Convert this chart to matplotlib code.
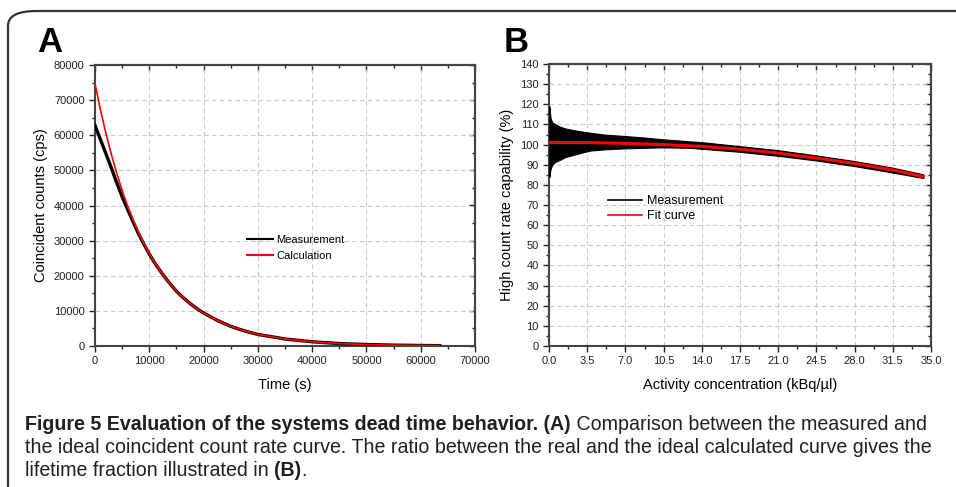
import matplotlib
matplotlib.use("Agg")
import matplotlib.pyplot as plt
from matplotlib.patches import FancyBboxPatch
from matplotlib.ticker import MultipleLocator, FormatStrFormatter

plt.rcParams["font.family"] = ["Liberation Sans", "DejaVu Sans"]

# panel A: coincident counts vs time
time_s = [0, 1000, 2000, 3000, 4000, 5000, 6000, 7000, 8000, 9000, 10000, 11000, 12000,
          13000, 14000, 15000, 16000, 17500, 19000, 20000, 22500, 25000, 27500, 30000,
          35000, 40000, 45000, 50000, 55000, 60000, 63500]
calc_cps = [74700, 67300, 60600, 54600, 49200, 44300, 39900, 36000, 32400, 29200, 26300,
            23700, 21400, 19300, 17400, 15600, 14100, 12100, 10400, 9400, 7300, 5600,
            4300, 3300, 2000, 1200, 700, 420, 250, 150, 105]
meas_cps = [62800, 58800, 54800, 50700, 46500, 42500, 38900, 35400, 32000, 29000, 26200,
            23650, 21400, 19300, 17400, 15600, 14100, 12100, 10400, 9400, 7300, 5600,
            4300, 3300, 2000, 1200, 700, 420, 250, 150, 105]

# panel B: high count rate capability vs activity
act = [0.03, 0.08, 0.15, 0.3, 0.6, 1.0, 1.5, 2.2, 3.0, 3.75, 5.0, 6.8, 8.5, 10.5,
       12.9, 14.0, 17.5, 21.0, 24.5, 28.0, 31.5, 34.3]
meas_hi = [119, 116, 113, 111, 110, 108.9, 108, 107.2, 106.5, 105.9, 105, 104.3, 103.6,
           102.6, 101.6, 101.2, 99.2, 97.2, 94.6, 91.8, 88.5, 85.2]
meas_lo = [84, 86, 88, 90, 91.5, 92.4, 93.8, 94.8, 96, 97, 97.6, 98.1, 98.4, 98.6,
           98.4, 97.9, 96.4, 94.4, 92.1, 89.3, 86.1, 83.4]
fit_x = [0, 3.5, 7.0, 10.5, 14.0, 17.5, 21.0, 23.0, 24.5, 28.0, 31.5, 34.3]
fit_y = [101, 101, 100.6, 100, 99.1, 97.7, 95.8, 94.3, 93.3, 90.6, 87.4, 84.1]

fig = plt.figure(figsize=(9.56, 4.87), dpi=100)

frame = FancyBboxPatch((8 / 956, -0.2), 1.2, 1.2 - 11 / 487,
                       boxstyle="round,pad=0,rounding_size=0.03",
                       transform=fig.transFigure, fill=False,
                       edgecolor="#333333", linewidth=1.6)
fig.patches.append(frame)

spine_col = "#444444"
tick_col = "#222222"


def style(ax, xmaj, xmin, ymaj, ymin, xlim, ylim):
    ax.set_xlim(*xlim)
    ax.set_ylim(*ylim)
    ax.xaxis.set_major_locator(MultipleLocator(xmaj))
    ax.xaxis.set_minor_locator(MultipleLocator(xmin))
    ax.yaxis.set_major_locator(MultipleLocator(ymaj))
    ax.yaxis.set_minor_locator(MultipleLocator(ymin))
    ax.tick_params(which="major", direction="out", length=4, width=1.0,
                   labelsize=8, colors=tick_col)
    ax.tick_params(which="minor", direction="out", length=2.5, width=1.0, colors=tick_col)
    ax.grid(True, which="major", linestyle=(0, (4, 3)), color="#c8c8c8", linewidth=0.8)
    for s in ax.spines.values():
        s.set_color(spine_col)
        s.set_linewidth(1.5)
    # mirrored ticks pointing inward on top / right
    top = ax.secondary_xaxis("top")
    top.xaxis.set_major_locator(MultipleLocator(xmaj))
    top.xaxis.set_minor_locator(MultipleLocator(xmin))
    top.tick_params(which="major", direction="in", length=4, labeltop=False, width=1.0, colors=tick_col)
    top.tick_params(which="minor", direction="in", length=2.5, width=1.0, colors=tick_col)
    top.spines["top"].set_color(spine_col)
    top.spines["top"].set_linewidth(1.5)
    right = ax.secondary_yaxis("right")
    right.yaxis.set_major_locator(MultipleLocator(ymaj))
    right.yaxis.set_minor_locator(MultipleLocator(ymin))
    right.tick_params(which="major", direction="in", length=4, labelright=False, width=1.0, colors=tick_col)
    right.tick_params(which="minor", direction="in", length=2.5, width=1.0, colors=tick_col)
    right.spines["right"].set_color(spine_col)
    right.spines["right"].set_linewidth(1.5)


# ---- panel A
axA = fig.add_axes([95 / 956, 1 - 346 / 487, 380 / 956, 281 / 487])
axA.plot(time_s, meas_cps, color="black", linewidth=2.4, label="Measurement", zorder=3)
axA.plot(time_s, calc_cps, color="red", linewidth=1.2, label="Calculation", zorder=4)
style(axA, 10000, 5000, 10000, 5000, (0, 70000), (0, 80000))
axA.set_xlabel("Time (s)", fontsize=10.5, labelpad=8)
axA.set_ylabel("Coincident counts (cps)", fontsize=10.5, labelpad=4)
legA = axA.legend(loc="upper left", bbox_to_anchor=(0.4, 0.395), frameon=False,
                  fontsize=8, handlelength=2.3, handletextpad=0.3, labelspacing=0.55,
                  borderpad=0, borderaxespad=0)
for h in legA.get_lines():
    h.set_linewidth(1.5)

# ---- panel B
axB = fig.add_axes([549 / 956, 1 - 346 / 487, 382 / 956, 282 / 487])
axB.fill_between(act, meas_lo, meas_hi, color="black", linewidth=0.8, zorder=3)
axB.plot([], [], color="black", linewidth=1.2, label="Measurement")
axB.plot(fit_x, fit_y, color="red", linewidth=2.2, label="Fit curve", zorder=4)
style(axB, 3.5, 1.75, 10, 5, (0, 35), (0, 140))
axB.xaxis.set_major_formatter(FormatStrFormatter("%.1f"))
axB.set_xlabel("Activity concentration (kBq/\u00b5l)", fontsize=10.5, labelpad=8)
axB.set_ylabel("High count rate capability (%)", fontsize=10.5, labelpad=4)
legB = axB.legend(loc="upper left", bbox_to_anchor=(0.155, 0.535), frameon=False,
                  fontsize=9, handlelength=2.7, handletextpad=0.4, labelspacing=0.25,
                  borderpad=0, borderaxespad=0)
for h in legB.get_lines():
    h.set_linewidth(1.2)

# panel letters
fig.text(37 / 956, 1 - 52 / 487, "A", fontsize=25, fontweight="bold", va="baseline")
fig.text(504 / 956, 1 - 52 / 487, "B", fontsize=25, fontweight="bold", va="baseline")

# caption with mixed weights, pieces chained left to right
cap_font = ["Liberation Sans Narrow", "Liberation Sans", "DejaVu Sans"]
cap_col = "#231f20"
cap_size = 14.15
lines = [
    [("Figure 5 Evaluation of the systems dead time behavior.", "bold"),
     (" (A)", "bold"),
     (" Comparison between the measured and", "normal")],
    [("the ideal coincident count rate curve. The ratio between the real and the ideal calculated curve gives the", "normal")],
    [("lifetime fraction illustrated in ", "normal"), ("(B)", "bold"), (".", "normal")],
]
baselines = [430, 453, 476]
for parts, yb in zip(lines, baselines):
    prev = None
    for txt, wt in parts:
        if prev is None:
            prev = fig.text(25 / 956, 1 - yb / 487, txt, fontsize=cap_size, fontweight=wt,
                            family=cap_font, color=cap_col, va="baseline", ha="left")
        else:
            prev = axA.annotate(txt, xy=(1, 0), xycoords=prev, va="bottom", ha="left",
                                fontsize=cap_size, fontweight=wt, family=cap_font,
                                color=cap_col, annotation_clip=False)

fig.savefig("out.png", dpi=100)
